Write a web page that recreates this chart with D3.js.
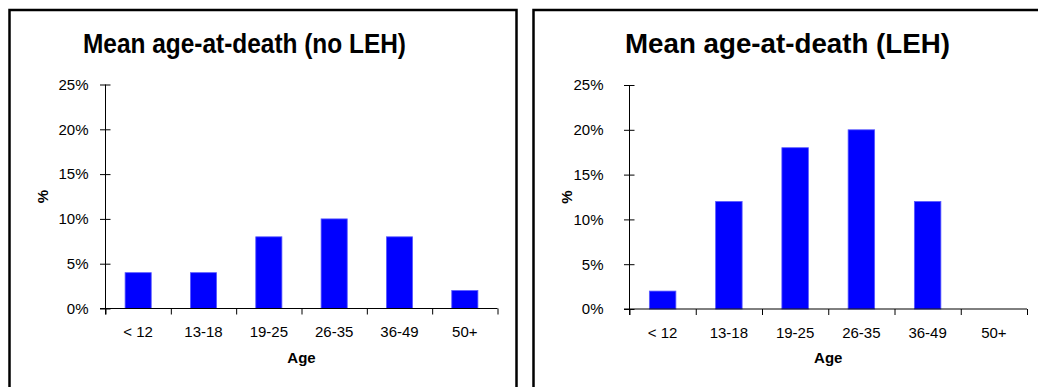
<!DOCTYPE html>
<html>
<head>
<meta charset="utf-8">
<script src="https://cdn.jsdelivr.net/npm/d3@7/dist/d3.min.js"></script>
<style>
  html, body { margin: 0; padding: 0; background: #fff; }
  svg { display: block; }
  text { font-family: "Liberation Sans", Arial, sans-serif; fill: #000; }
</style>
</head>
<body>
<svg id="chart" width="1038" height="387"></svg>
<script>
// Age groups shared by both charts
const categories = ["< 12", "13-18", "19-25", "26-35", "36-49", "50+"];
// Percentage of deaths per age group
const noLehValues = [4, 4, 8, 10, 8, 2];
const lehValues = [2, 12, 18, 20, 12, 0];
// Value axis ticks (percent)
const yTicks = [0, 5, 10, 15, 20, 25];
const titles = ["Mean age-at-death (no LEH)", "Mean age-at-death (LEH)"];

const svg = d3.select("#chart");

// Panel layout: frame, plot area and title placement
const panels = [
  { values: noLehValues, title: titles[0],
    frame: { x0: 9.5, x1: 516.5, y0: 10 },
    plot: { x0: 105.5, x1: 497.5, y0: 84.5, y1: 308.5 },
    titleX: 83, titleW: 323, yLabelGap: 17, pctX: 43 },
  { values: lehValues, title: titles[1],
    frame: { x0: 533.5, x1: 1045, y0: 10 },
    plot: { x0: 629.5, x1: 1027, y0: 85, y1: 309 },
    titleX: 625, titleW: 325, yLabelGap: 26, pctX: 567 }
];

const labelFont = "Liberation Sans, Arial, sans-serif";

panels.forEach(p => {
  const g = svg.append("g");

  // Chart frame (open at the bottom)
  g.append("path")
    .attr("d", `M${p.frame.x0},400 V${p.frame.y0} H${p.frame.x1} V400`)
    .attr("fill", "none").attr("stroke", "#000").attr("stroke-width", 2.5);

  // Title
  g.append("text")
    .attr("x", p.titleX).attr("y", 53)
    .attr("font-size", 28.5).attr("font-weight", "bold")
    .attr("textLength", p.titleW).attr("lengthAdjust", "spacingAndGlyphs")
    .text(p.title);

  const x = d3.scaleBand()
    .domain(categories)
    .range([p.plot.x0, p.plot.x1])
    .paddingInner(0.6).paddingOuter(0.3);

  const y = d3.scaleLinear()
    .domain([0, 25])
    .range([p.plot.y1, p.plot.y0]);

  // Bars
  g.append("g").selectAll("rect")
    .data(p.values.map((v, i) => ({ c: categories[i], v })))
    .join("rect")
    .attr("x", d => x(d.c))
    .attr("width", x.bandwidth())
    .attr("y", d => y(d.v))
    .attr("height", d => y(0) - y(d.v))
    .attr("fill", "#0000ff")
    .attr("stroke", "#5a5aff").attr("stroke-width", 0.8);

  // Y axis with crossing tick marks
  const yAxis = g.append("g")
    .attr("transform", `translate(${p.plot.x0},0)`)
    .call(d3.axisLeft(y).tickValues(yTicks).tickFormat(d => d + "%")
      .tickSizeInner(5).tickSizeOuter(0).tickPadding(p.yLabelGap - 5));
  yAxis.select(".domain").remove();
  yAxis.selectAll(".tick line").attr("x1", 5).attr("x2", -5.5).attr("stroke", "#000");
  yAxis.selectAll(".tick text")
    .attr("font-size", 15).attr("font-family", labelFont)
    .attr("fill", "#222");
  g.append("line")
    .attr("x1", p.plot.x0).attr("x2", p.plot.x0)
    .attr("y1", p.plot.y0).attr("y2", p.plot.y1 + 6)
    .attr("stroke", "#000");

  // X axis: baseline and tick marks at category boundaries
  const xb = d3.scaleLinear().domain([0, categories.length]).range([p.plot.x0, p.plot.x1]);
  const xAxis = g.append("g")
    .attr("transform", `translate(0,${p.plot.y1})`)
    .call(d3.axisBottom(xb).tickValues(d3.range(categories.length + 1))
      .tickFormat("").tickSizeInner(6).tickSizeOuter(0));
  xAxis.select(".domain").remove();
  xAxis.selectAll(".tick line").attr("stroke", "#000");
  g.append("line")
    .attr("x1", p.plot.x0 - 5.5).attr("x2", p.plot.x1)
    .attr("y1", p.plot.y1).attr("y2", p.plot.y1)
    .attr("stroke", "#000");

  // Category labels
  const xLab = g.append("g")
    .attr("transform", `translate(0,${p.plot.y1})`)
    .call(d3.axisBottom(x).tickSize(0).tickPadding(18));
  xLab.select(".domain").remove();
  xLab.selectAll(".tick text")
    .attr("font-size", 15).attr("font-family", labelFont)
    .attr("fill", "#222");

  // Axis titles
  g.append("text")
    .attr("x", (p.plot.x0 + p.plot.x1) / 2).attr("y", 363)
    .attr("text-anchor", "middle")
    .attr("font-size", 15).attr("font-weight", "bold")
    .text("Age");
  g.append("text")
    .attr("transform", `translate(${p.pctX + 5},${(p.plot.y0 + p.plot.y1) / 2}) rotate(-90)`)
    .attr("text-anchor", "middle")
    .attr("font-size", 15).attr("font-weight", "bold")
    .text("%");
});
</script>
</body>
</html>
